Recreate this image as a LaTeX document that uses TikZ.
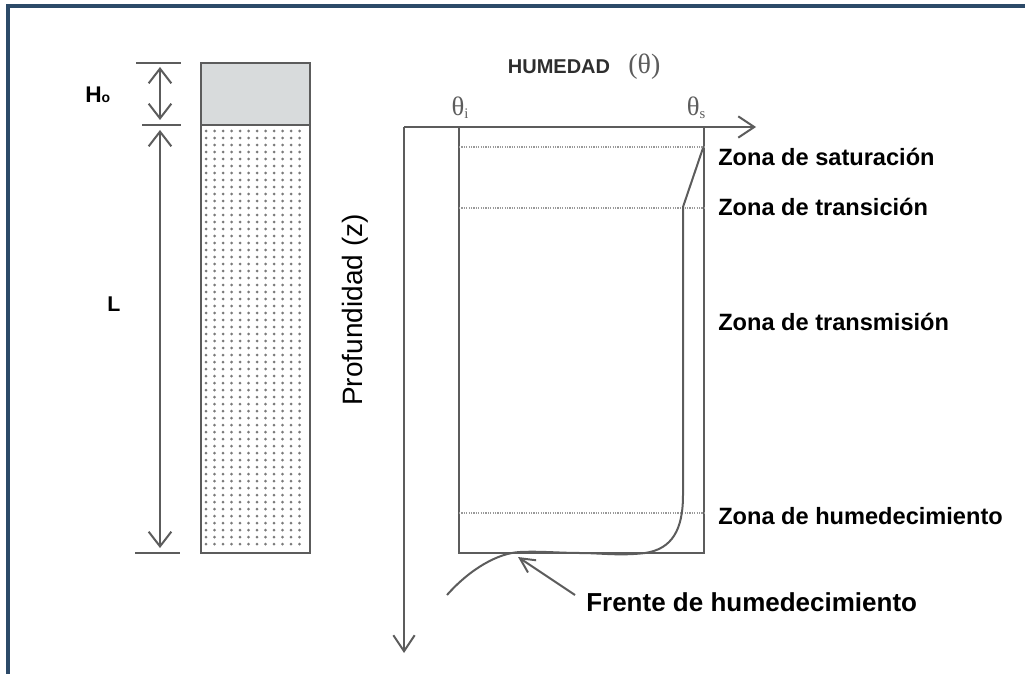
\documentclass[tikz,border=0pt]{standalone}
\usepackage{fontspec}
\setmainfont{Liberation Sans}
\newfontfamily\thetafont{Liberation Serif}
\usetikzlibrary{arrows.meta}
\definecolor{frameblue}{HTML}{2C4A68}
\definecolor{ink}{HTML}{5C5C5C}
\definecolor{dotink}{HTML}{7A7A7A}
\definecolor{lightdot}{HTML}{9A9A9A}
\definecolor{water}{HTML}{D8DBDC}
\definecolor{scantext}{HTML}{2E2E2E}
\begin{document}
\begin{tikzpicture}[x=0.75pt,y=-0.75pt,
  inkline/.style={draw=ink, line width=1.5pt},
  dimarrow/.style={inkline, {Straight Barb[length=11pt,width=17pt,line width=1.5pt]}-{Straight Barb[length=11pt,width=17pt,line width=1.5pt]}},
  axisarrow/.style={inkline, -{Straight Barb[length=12pt,width=16pt,line width=1.5pt]}},
  smallarrow/.style={inkline, -{Straight Barb[length=11pt,width=11pt,line width=1.5pt]}},
  zonelabel/.style={anchor=base west, inner sep=0pt, font=\fontsize{17.7pt}{20pt}\selectfont\bfseries, text=black},
  dotline/.style={draw=lightdot, line width=1pt, dash pattern=on 0.9pt off 0.9pt},
  thetalabel/.style={inner sep=0pt, text=ink, font=\thetafont\fontsize{20pt}{22pt}\selectfont}
]
\useasboundingbox (0,0) rectangle (1025,674);
% frame
\draw[frameblue, line width=2.4pt] (8,674) -- (8,6) -- (1025,6);

% soil column
\coordinate (wtl) at (201,63);
\coordinate (wbr) at (310,125);
\coordinate (stl) at (201,125);
\coordinate (sbr) at (310,553);
\fill[water] (wtl) rectangle (wbr);
\foreach \yy in {131,138,...,549}{
  \foreach \xx in {206,214.5,...,306}{
    \fill[dotink] (\xx,\yy) circle[radius=1.5];
  }
}
\draw[inkline] (wtl) rectangle (wbr);
\draw[inkline] (stl) rectangle (sbr);

% dimension lines
\coordinate (t1a) at (136,63); \coordinate (t1b) at (181,63);
\coordinate (t2a) at (142,125); \coordinate (t2b) at (181,125);
\coordinate (t3a) at (135,553); \coordinate (t3b) at (180,553);
\draw[inkline] (t1a) -- (t1b);
\draw[inkline] (t2a) -- (t2b);
\draw[inkline] (t3a) -- (t3b);
\coordinate (h1) at (160,67); \coordinate (h2) at (160,120);
\coordinate (l1) at (160,130); \coordinate (l2) at (160,548);
\draw[dimarrow] (h1) -- (h2);
\draw[dimarrow] (l1) -- (l2);
\node[anchor=base west, inner sep=0pt, font=\fontsize{17pt}{19pt}\selectfont\bfseries] (ho) at (85,103) {H\fontsize{10.5pt}{12pt}\selectfont o};
\node[anchor=base west, inner sep=0pt, font=\fontsize{16pt}{18pt}\selectfont\bfseries] (lbl) at (107,311) {L};

% axes
\coordinate (O) at (404,127);
\coordinate (xend) at (756,127);
\coordinate (zend) at (404,653);
\draw[axisarrow] (O) -- (xend);
\draw[axisarrow] (O) -- (zend);

% profile box
\coordinate (bl) at (459,553);
\coordinate (br) at (704,553);
\coordinate (tl) at (459,127);
\coordinate (tr) at (704,127);
\draw[inkline] (tl) -- (bl) -- (br) -- (tr);

% dotted zone lines
\coordinate (d1a) at (459,147); \coordinate (d1b) at (704,147);
\coordinate (d2a) at (459,208); \coordinate (d2b) at (704,208);
\coordinate (d3a) at (459,513); \coordinate (d3b) at (704,513);
\draw[dotline] (d1a) -- (d1b);
\draw[dotline] (d2a) -- (d2b);
\draw[dotline] (d3a) -- (d3b);

% moisture profile
\coordinate (p0) at (703,148);
\coordinate (p1) at (683,207);
\coordinate (p2) at (683,495);
\coordinate (p3) at (645,553);
\coordinate (p4) at (580,553);
\coordinate (p5) at (520,552);
\coordinate (p6) at (447,595);
\draw[inkline, line join=round] (p0) -- (p1) -- (p2)
  .. controls (683,530) and (672,549) .. (p3)
  .. controls (620,556) and (600,553) .. (p4)
  .. controls (560,553) and (540,551) .. (p5)
  .. controls (498,553) and (470,569) .. (p6);

% front arrow
\coordinate (fa) at (575,595);
\coordinate (fb) at (518,557);
\draw[smallarrow] (fa) -- (fb);

% labels
\node[anchor=base, inner sep=0pt, text=scantext, font=\fontsize{15pt}{17pt}\selectfont\bfseries] (hum) at (559,74) {HUMEDAD};
\node[anchor=base west, thetalabel, font=\thetafont\fontsize{21pt}{23pt}\selectfont] (humt) at (628,74) {(θ)};
\node[anchor=base, thetalabel] (ti) at (460,116) {θ\fontsize{11pt}{12pt}\selectfont\raisebox{-2pt}{i}};
\node[anchor=base, thetalabel] (ts) at (696,116) {θ\fontsize{11pt}{12pt}\selectfont\raisebox{-2pt}{s}};
\node[rotate=90, inner sep=0pt, font=\fontsize{21pt}{23pt}\selectfont] (prof) at (355,310) {Profundidad (z)};

\node[zonelabel] (z1) at (718,166) {Zona de saturación};
\node[zonelabel] (z2) at (718,215) {Zona de transición};
\node[zonelabel] (z3) at (718,330) {Zona de transmisión};
\node[zonelabel] (z4) at (718,524) {Zona de humedecimiento};
\node[zonelabel, font=\fontsize{19.5pt}{22pt}\selectfont\bfseries] (z5) at (586,611) {Frente de humedecimiento};
\end{tikzpicture}
\end{document}
